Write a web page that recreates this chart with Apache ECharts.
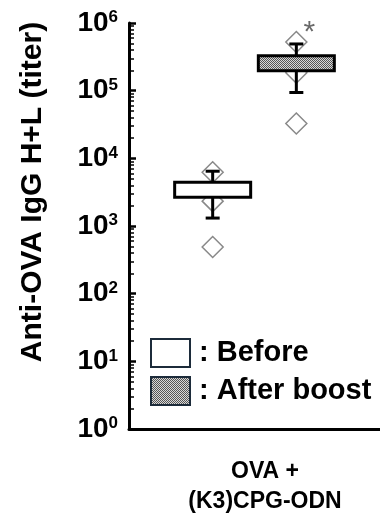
<!DOCTYPE html>
<html>
<head>
<meta charset="utf-8">
<script src="https://cdn.jsdelivr.net/npm/echarts@6/dist/echarts.min.js"></script>
<style>
  html, body { margin: 0; padding: 0; background: #fff; }
  #main { width: 380px; height: 520px; }
</style>
</head>
<body>
<div id="main"></div>
<script>
// x slots: empty, Before, After boost, empty
var categories = ['', 'Before', 'After boost', ''];
// box: [x, min, Q1, Q3, max]
var beforeBox = [[1, 1310, 2670, 4440, 6450]];
var afterBox = [[2, 94000, 197000, 327000, 490000]];
// individual titers
var beforePoints = [[1, 6220], [1, 2330], [1, 490]];
var afterPoints = [[2, 525000], [2, 184000], [2, 32700]];
var sigMark = [[2, 600000]];

var FONT = 'Liberation Sans, Arial, sans-serif';

// dotted grey fill like the original
var pat = document.createElement('canvas');
pat.width = 2; pat.height = 2;
var pctx = pat.getContext('2d');
pctx.fillStyle = '#d8d8d8';
pctx.fillRect(0, 0, 2, 2);
pctx.fillStyle = '#555';
pctx.fillRect(0, 0, 1, 1);
pctx.fillRect(1, 1, 1, 1);
var grayFill = { image: pat, repeat: 'repeat' };

function makeBox(fill) {
    return function (params, api) {
        var x = api.value(0);
        var pMin = api.coord([x, api.value(1)]);
        var pQ1 = api.coord([x, api.value(2)]);
        var pQ3 = api.coord([x, api.value(3)]);
        var pMax = api.coord([x, api.value(4)]);
        var half = 38, cap = 7;
        var line = { stroke: '#000', lineWidth: 3 };
        return {
            type: 'group',
            children: [
                { type: 'line', shape: { x1: pMin[0], y1: pMin[1], x2: pMax[0], y2: pMax[1] }, style: line },
                { type: 'line', shape: { x1: pMin[0] - cap, y1: pMin[1], x2: pMin[0] + cap, y2: pMin[1] }, style: line },
                { type: 'line', shape: { x1: pMax[0] - cap, y1: pMax[1], x2: pMax[0] + cap, y2: pMax[1] }, style: line },
                {
                    type: 'rect',
                    shape: { x: pQ3[0] - half, y: pQ3[1], width: half * 2, height: pQ1[1] - pQ3[1] },
                    style: { fill: fill, stroke: '#000', lineWidth: 3 }
                }
            ]
        };
    };
}

var myChart = echarts.init(document.getElementById('main'));

option = {
    animation: false,
    backgroundColor: '#fff',
    grid: { left: 129, top: 23, right: -7, bottom: 91 },
    legend: {
        orient: 'vertical',
        left: 145,
        top: 333,
        itemWidth: 39,
        itemHeight: 28,
        itemGap: 8,
        selectedMode: false,
        formatter: ': {name}',
        textStyle: { fontFamily: FONT, fontSize: 29, fontWeight: 'bold', color: '#000', padding: [0, 0, 0, 4] },
        data: [
            { name: 'Before', icon: 'rect', itemStyle: { color: '#fff', borderColor: '#1c2b3a', borderWidth: 2 } },
            { name: 'After boost', icon: 'rect', itemStyle: { color: grayFill, borderColor: '#1c2b3a', borderWidth: 2 } }
        ]
    },
    xAxis: {
        type: 'category',
        data: categories,
        boundaryGap: false,
        axisLine: { lineStyle: { color: '#000', width: 3 } },
        axisTick: { show: false },
        axisLabel: { show: false },
        splitLine: { show: false }
    },
    yAxis: {
        type: 'log',
        logBase: 10,
        min: 1,
        max: 1000000,
        axisLine: { show: true, lineStyle: { color: '#000', width: 3 } },
        axisTick: { show: true, inside: true, length: 7, lineStyle: { color: '#000', width: 2.5 } },
        minorTick: { show: true, splitNumber: 9, length: 5, lineStyle: { color: '#000', width: 1.5 } },
        splitLine: { show: false },
        axisLabel: {
            margin: 11,
            formatter: function (v) {
                return '{b|10}{s|' + Math.round(Math.log10(v)) + '}';
            },
            rich: {
                b: { fontFamily: FONT, fontSize: 28, fontWeight: 'bold', color: '#000' },
                s: { fontFamily: FONT, fontSize: 17, fontWeight: 'bold', color: '#000', verticalAlign: 'top' }
            }
        }
    },
    graphic: [
        {
            type: 'text',
            x: 33, y: 192, rotation: Math.PI / 2,
            style: {
                text: 'Anti-OVA IgG H+L (titer)',
                fontFamily: FONT, fontSize: 30, fontWeight: 'bold', fill: '#000',
                align: 'center', verticalAlign: 'middle'
            }
        },
        {
            type: 'text',
            x: 265, y: 487,
            style: {
                text: 'OVA +\n(K3)CPG-ODN',
                fontFamily: FONT, fontSize: 23, fontWeight: 'bold', fill: '#000',
                lineHeight: 30, align: 'center', verticalAlign: 'middle'
            }
        }
    ],
    series: [
        {
            name: 'points',
            type: 'scatter',
            z: 1,
            symbol: 'diamond',
            symbolSize: [21, 21],
            itemStyle: { color: '#fff', borderColor: '#6b6b6b', borderWidth: 1.5 },
            data: beforePoints.concat(afterPoints)
        },
        {
            name: 'Before',
            type: 'custom',
            z: 3,
            itemStyle: { color: '#fff' },
            renderItem: makeBox('#fff'),
            encode: { x: 0, y: [1, 2, 3, 4] },
            data: beforeBox
        },
        {
            name: 'After boost',
            type: 'custom',
            z: 3,
            itemStyle: { color: grayFill },
            renderItem: makeBox(grayFill),
            encode: { x: 0, y: [1, 2, 3, 4] },
            data: afterBox
        },
        {
            name: 'sig',
            type: 'scatter',
            symbolSize: 0,
            data: sigMark,
            label: {
                show: true,
                formatter: '*',
                position: 'inside',
                offset: [13, -5],
                fontFamily: FONT,
                fontSize: 30,
                color: '#444'
            }
        }
    ]
};
myChart.setOption(option);
</script>
</body>
</html>
